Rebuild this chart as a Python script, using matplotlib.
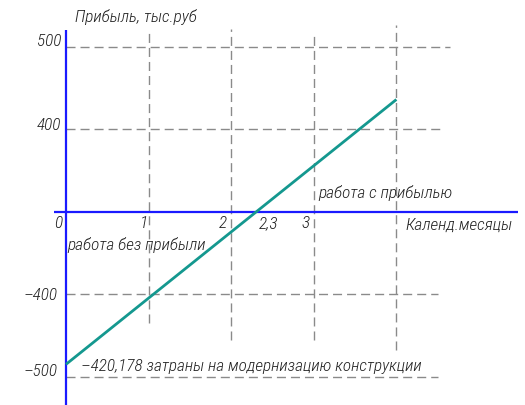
import matplotlib
matplotlib.use("Agg")
import matplotlib.pyplot as plt

# ---- data ----
x_ticks = [0, 1, 2, 2.3, 3]
x_tick_labels = ["0", "1", "2", "2,3", "3"]
y_levels = [2, 1, 0, -1, -2]
y_tick_labels = ["500", "400", "", "–400", "–500"]
grid_x = [1, 2, 3, 4]
grid_y = [2, 1, -1, -2]
line_months = [0, 4]
line_profit_level = [-1.85, 1.36]   # drawn positions (levels of the y ticks)

# ---- styling ----
TXT = dict(family=["Roboto Condensed", "DejaVu Sans"], style="italic", weight="light",
           color="#222222", fontsize=12.4)

W, H = 525, 405
x0_px, y0_px = 66, 211.7
sx, sy = 82.6, 82.5

fig = plt.figure(figsize=(W / 100, H / 100), dpi=100)
ax = fig.add_axes([0, 0, 1, 1])
ax.set_xlim(-x0_px / sx, (W - x0_px) / sx)
ax.set_ylim((y0_px - H) / sy, y0_px / sy)
ax.axis("off")

def py(p):  # pixel row -> data y
    return (y0_px - p) / sy

def px(p):  # pixel col -> data x
    return (p - x0_px) / sx

dash = dict(color="#8a8a8a", lw=1.0, dashes=(6.5, 3.6))
v_ext = {1: (29, 323), 2: (29, 340), 3: (33, 340), 4: (25, 350)}
for gx in grid_x:
    t, b = v_ext[gx]
    ax.plot([gx, gx], [py(b), py(t)], **dash)
h_ext = {2: 450, 1: 443, -1: 438, -2: 438}
for gy in grid_y:
    ax.plot([0, px(h_ext[gy])], [gy, gy], **dash)

# axes
ax.plot([0, 0], [py(405), py(30)], color="#1a1aff", lw=1.6, solid_capstyle="butt")
ax.plot([px(54), px(518)], [0, 0], color="#1a1aff", lw=1.6, solid_capstyle="butt")

# line
ax.plot(line_months, line_profit_level, color="#14988f", lw=2.0, solid_capstyle="butt")

# tick labels
y_lab_px = {2: (61, 42), 1: (61, 126), -1: (58, 295), -2: (58, 371)}
for lv, lab in zip(y_levels, y_tick_labels):
    if lab:
        xr, yr = y_lab_px[lv]
        ax.text(px(xr), py(yr), lab, ha="right", va="center", **TXT)
x_lab_px = {"0": 58, "1": 144, "2": 223, "2,3": 268, "3": 306}
for xv, lab in zip(x_ticks, x_tick_labels):
    ax.text(px(x_lab_px[lab]), py(224), lab, ha="center", va="center", **TXT)

ax.text(px(75), py(17), "Прибыль, тыс.руб", ha="left", va="center", **TXT)
ax.text(px(67), py(245), "работа без прибыли", ha="left", va="center", **TXT)
ax.text(px(318), py(193), "работа с прибылью", ha="left", va="center", **TXT)
ax.text(px(513), py(225), "Календ.месяцы", ha="right", va="center", **TXT)
ax.text(px(81), py(366), "–420,178 затраны на модернизацию конструкции", ha="left", va="center", **TXT)

fig.savefig("out.png", dpi=100)
